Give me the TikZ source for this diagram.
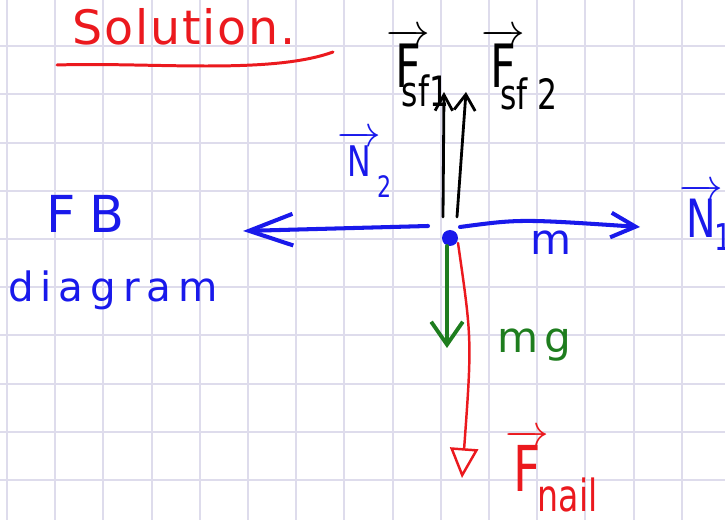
\documentclass[tikz,border=0pt]{standalone}
\usepackage{amsmath}
\usepackage{fontspec}
\setmainfont{DejaVu Sans}
\newfontfamily\penfont[FakeStretch=0.75]{DejaVu Sans}
\usetikzlibrary{arrows.meta}
% vector letter with a lowered subscript: {letter}{sub}{kern}{drop}
\newcommand{\vecsub}[4]{$\overrightarrow{\text{#1}}\kern#3_{\text{\raisebox{#4}{#2}}}$}

\begin{document}
\begin{tikzpicture}[x=0.02cm, y=-0.02cm, line cap=round, line join=round,
    gridline/.style={draw=gridlav, line width=1.1pt},
    lbl/.style={inner sep=0pt, anchor=base west},
    dot/.style={circle, fill=penblue, inner sep=0pt, minimum size=0.32cm}]
  \definecolor{penred}{RGB}{235,25,30}
  \definecolor{penblue}{RGB}{25,25,235}
  \definecolor{pengreen}{RGB}{30,125,30}
  \definecolor{gridlav}{RGB}{222,220,236}
  \useasboundingbox (0,0) rectangle (725,520);
  \clip (0,0) rectangle (725,520);
  \fill[white] (0,0) rectangle (725,520);
  % squared paper
  \foreach \k in {0,...,14}
    \draw[gridline] ({7+48.2*\k},0) -- ({7+48.2*\k},520);
  \foreach \k in {1,...,10}
    \draw[gridline] (0,{-2+48.2*\k}) -- (725,{-2+48.2*\k});

  % heading
  \node[lbl, penred, font=\fontsize{27}{30}\selectfont\addfontfeature{LetterSpace=4}] (title) at (72,45) {Solution.};
  \draw[penred, line width=1.7pt] (57,65) .. controls (150,62) and (270,75) .. (333,52);
  \node[lbl, penblue, font=\fontsize{29}{32}\selectfont\addfontfeature{LetterSpace=27}] (fb) at (46,233) {FB};
  \node[lbl, penblue, font=\fontsize{23}{26}\selectfont\addfontfeature{LetterSpace=17}] (diag) at (8,302) {diagram};

  % forces on the object
  \coordinate (n2s) at (428,226);  \coordinate (n2e) at (243,231);
  \coordinate (n1s) at (460,227);  \coordinate (n1e) at (640,227);
  \draw[penblue, line width=2.3pt, -{Straight Barb[length=25pt,width=18pt]}] (n2s) -- (n2e);
  \draw[penblue, line width=2.3pt, -{Straight Barb[length=14pt,width=14pt]}] (n1s) .. controls (520,219) .. (n1e);
  \node[dot] (obj) at (450,238) {};
  \coordinate (sf1s) at (443,217);  \coordinate (sf1e) at (444,92);
  \coordinate (sf2s) at (457,217);  \coordinate (sf2e) at (466,92);
  \draw[line width=1.6pt, -{Straight Barb[length=9pt,width=10pt]}] (sf1s) -- (sf1e);
  \draw[line width=1.6pt, -{Straight Barb[length=9pt,width=12pt]}] (sf2s) -- (sf2e);
  \coordinate (mgs) at (447,246);  \coordinate (mge) at (447,348);
  \draw[pengreen, line width=2.2pt, -{Straight Barb[length=13pt,width=18pt]}] (mgs) -- (mge);
  \coordinate (nls) at (458,243);  \coordinate (nle) at (462,478);
  \draw[penred, line width=1.4pt, -{Triangle[open,length=17pt,width=16pt]}] (nls) .. controls (472,340) .. (nle);

  % labels
  \node[lbl, font=\penfont\fontsize{34}{36}\selectfont] (fsf1) at (386,88) {\vecsub{F}{sf1}{-16pt}{-6.6pt}};
  \node[lbl, font=\penfont\fontsize{34}{36}\selectfont] (fsf2) at (481,88) {\vecsub{F}{sf 2}{-14pt}{-8.3pt}};
  \node[lbl, penblue, font=\penfont\fontsize{24}{26}\selectfont] (n2) at (337,177) {\vecsub{N}{2}{-2pt}{-8pt}};
  \node[lbl, penblue, font=\penfont\fontsize{30}{32}\selectfont] (n1) at (679,238) {\vecsub{N}{1}{-5pt}{-3.5pt}};
  \node[lbl, penblue, font=\fontsize{24}{26}\selectfont] (m) at (530,255) {m};
  \node[lbl, pengreen, font=\fontsize{24}{26}\selectfont\addfontfeature{LetterSpace=15}] (mg) at (497,353) {mg};
  \node[lbl, penred, font=\penfont\fontsize{36}{38}\selectfont] (fnail) at (505,492) {\vecsub{F}{nail}{-6.5pt}{-7.6pt}};
\end{tikzpicture}
\end{document}
